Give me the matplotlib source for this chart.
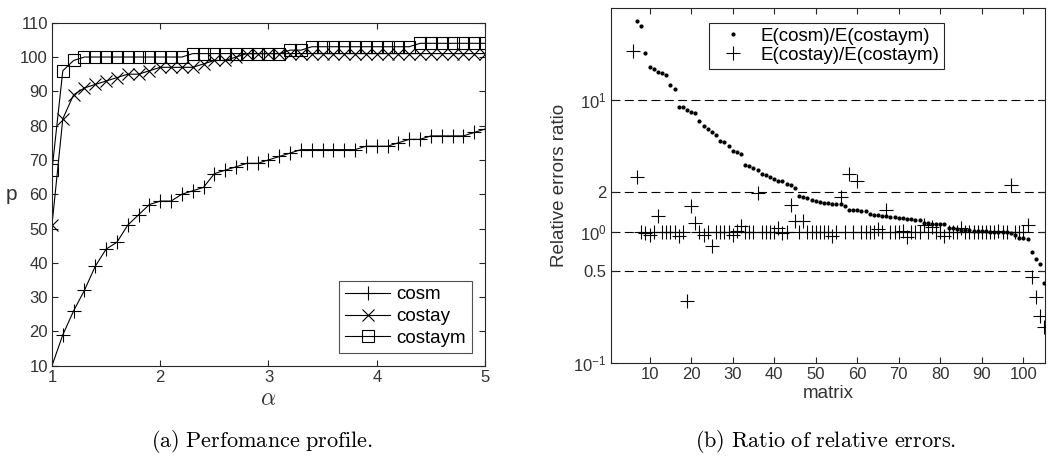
import matplotlib
matplotlib.use("Agg")
import matplotlib.pyplot as plt
import numpy as np

plt.rcParams['font.family'] = ['Liberation Sans', 'DejaVu Sans']
plt.rcParams['mathtext.fontset'] = 'cm'

# ---------------- data: performance profile ----------------
alpha = [1.0, 1.1, 1.2, 1.3, 1.4, 1.5, 1.6, 1.7, 1.8, 1.9,
         2.0, 2.1, 2.2, 2.3, 2.4, 2.5, 2.6, 2.7, 2.8, 2.9,
         3.0, 3.1, 3.2, 3.3, 3.4, 3.5, 3.6, 3.7, 3.8, 3.9,
         4.0, 4.1, 4.2, 4.3, 4.4, 4.5, 4.6, 4.7, 4.8, 4.9, 5.0]
p_cosm = [10, 19, 26, 32, 39, 44, 46, 51, 54, 57,
          58, 58, 60, 61, 62, 66, 67, 68, 69, 69,
          70, 71, 72, 73, 73, 73, 73, 73, 73, 74,
          74, 74, 75, 76, 76, 77, 77, 77, 77, 78, 79]
p_costay = [51, 82, 89, 91, 92, 93, 94, 95, 95, 96,
            97, 97, 97, 97, 98, 99, 99, 100, 101, 101,
            101, 101, 101, 101, 101, 101, 101, 101, 101, 101,
            101, 101, 101, 101, 101, 101, 101, 101, 101, 101, 101]
p_costaym = [67, 96, 99, 100, 100, 100, 100, 100, 100, 100,
             100, 100, 100, 101, 101, 101, 101, 101, 101, 101,
             101, 101, 102, 102, 103, 103, 103, 103, 103, 103,
             103, 103, 103, 103, 104, 104, 104, 104, 104, 104, 104]

# ---------------- data: ratio of relative errors ----------------
matrix_cosm = list(range(7, 106))
ratio_cosm = [40, 36.5, 23, 17.9, 17.4, 16.3, 16.0, 15.5, 13.0, 12.2,
              8.9, 8.9, 8.5, 8.2, 8.0, 6.9, 6.4, 6.0, 5.7, 5.4,
              4.9, 4.85, 4.46, 4.14, 4.05, 3.88, 3.22, 3.15, 3.06, 2.97,
              2.77, 2.70, 2.59, 2.50, 2.45, 2.43, 2.32, 2.26, 2.16, 1.86,
              1.85, 1.82, 1.74, 1.70, 1.68, 1.66, 1.65, 1.64, 1.63, 1.62,
              1.57, 1.47, 1.47, 1.46, 1.45, 1.44, 1.36, 1.35, 1.34, 1.33,
              1.31, 1.30, 1.29, 1.28, 1.27, 1.26, 1.25, 1.24, 1.23, 1.16,
              1.16, 1.15, 1.15, 1.14, 1.14, 1.06, 1.06, 1.05, 1.04, 1.03,
              1.03, 1.02, 1.02, 1.01, 1.01, 1.00, 1.00, 1.00, 0.99, 0.99,
              0.98, 0.95, 0.90, 0.89, 0.88, 0.70, 0.62, 0.57, 0.41]
matrix_costay = list(range(6, 106))
ratio_costay = [23.6, 2.59, 1.0, 0.98, 0.95, 1.0, 1.32, 1.0, 1.0, 1.0,
                1.0, 0.93, 1.0, 0.30, 1.58, 1.16, 1.0, 0.94, 1.0, 0.78,
                1.0, 1.0, 1.0, 1.0, 0.95, 1.02, 1.1, 1.0, 1.0, 1.0,
                1.98, 1.0, 1.0, 1.0, 1.0, 1.06, 0.98, 1.0, 1.6, 1.2,
                1.0, 1.2, 1.0, 1.0, 1.0, 1.0, 1.0, 1.0, 0.93, 1.0,
                1.83, 1.0, 2.77, 1.0, 2.44, 1.0, 1.0, 1.0, 1.0, 1.05,
                1.0, 1.47, 1.0, 1.0, 1.0, 1.02, 0.92, 1.0, 1.0, 1.0,
                1.12, 1.0, 1.08, 1.0, 1.0, 0.93, 1.0, 1.0, 1.0, 1.07,
                1.0, 1.0, 1.0, 1.0, 1.0, 1.0, 1.0, 1.0, 1.02, 1.0,
                1.0, 2.26, 1.0, 1.0, 1.0, 1.12, 0.45, 0.32, 0.23, 0.19]
ratio_ticks = [0.1, 0.5, 1, 2, 10]
ratio_ticklabels = [r'$\mathregular{10^{-1}}$', '0.5', r'$\mathregular{10^{0}}$', '2',
                    r'$\mathregular{10^{1}}$']
grid_levels = [0.5, 1, 2, 10]

axcol = '#262626'
txtcol = '#333333'
fig = plt.figure(figsize=(10.48, 4.61), dpi=100)

def style(ax):
    for s in ax.spines.values():
        s.set_color(axcol)
        s.set_linewidth(0.8)
    ax.tick_params(direction='in', top=True, right=True, colors=axcol,
                   labelcolor=txtcol, labelsize=12, length=4.5, width=0.8, pad=3)
    ax.tick_params(which='minor', length=0)

# ---- left ----
ax1 = fig.add_axes([0.0496, 0.2067, 0.4132, 0.744])
ax1.plot(alpha, p_cosm, '-', color='k', lw=0.8, marker='+', ms=10, mew=0.8, label='cosm')
ax1.plot(alpha, p_costay, '-', color='k', lw=0.8, marker='x', ms=8.5, mew=0.8, label='costay')
ax1.plot(alpha, p_costaym, '-', color='k', lw=0.8, marker='s', ms=8.5, mew=0.8,
         mfc='none', label='costaym')
ax1.set_xlim(1, 5)
ax1.set_ylim(10, 110)
ax1.set_xticks([1, 2, 3, 4, 5])
ax1.set_yticks(range(10, 111, 10))
style(ax1)
ax1.set_xlabel(r'$\alpha$', fontsize=17, labelpad=2, color=txtcol)
ax1.set_ylabel('p', fontsize=15, rotation=0, labelpad=6, va='center', color=txtcol)
leg1 = ax1.legend(loc='lower right', fontsize=13.5, frameon=True, fancybox=False,
                  edgecolor=axcol, handlelength=2.4, borderaxespad=0.7,
                  labelspacing=0.25, handletextpad=0.35, borderpad=0.3)
leg1.get_frame().set_linewidth(0.8)

# ---- right ----
ax2 = fig.add_axes([0.583, 0.2119, 0.4141, 0.770])
for g in grid_levels:
    ax2.axhline(g, color='k', lw=0.8, ls=(0, (8, 4)), zorder=1)
ax2.plot(matrix_cosm, ratio_cosm, ls='none', marker='.', ms=4, color='k',
         label='E(cosm)/E(costaym)', zorder=3)
ax2.plot(matrix_costay, ratio_costay, ls='none', marker='+', ms=10, mew=0.8, color='k',
         label='E(costay)/E(costaym)', zorder=3)
ax2.set_yscale('log')
ax2.set_xlim(0.7, 105.2)
ax2.set_ylim(0.1, 50)
ax2.set_xticks(range(10, 101, 10))
ax2.set_yticks(ratio_ticks)
ax2.set_yticklabels(ratio_ticklabels)
style(ax2)
ax2.set_xlabel('matrix', fontsize=13.5, color=txtcol, labelpad=2)
ax2.set_ylabel('Relative errors ratio', fontsize=13.5, labelpad=4, color=txtcol)
leg2 = ax2.legend(loc='upper left', bbox_to_anchor=(0.205, 0.985), fontsize=13.5,
                  frameon=True, fancybox=False, edgecolor=axcol, handlelength=2.0,
                  labelspacing=0.1, handletextpad=0.5, borderpad=0.25,
                  framealpha=1)
leg2.get_frame().set_linewidth(0.8)

# captions
fig.text(0.25, 0.03, r'$\mathrm{(a)\ Perfomance\ profile.}$', ha='center', fontsize=16)
fig.text(0.788, 0.03, r'$\mathrm{(b)\ Ratio\ of\ relative\ errors.}$', ha='center', fontsize=16)

fig.savefig('out.png', dpi=100)
